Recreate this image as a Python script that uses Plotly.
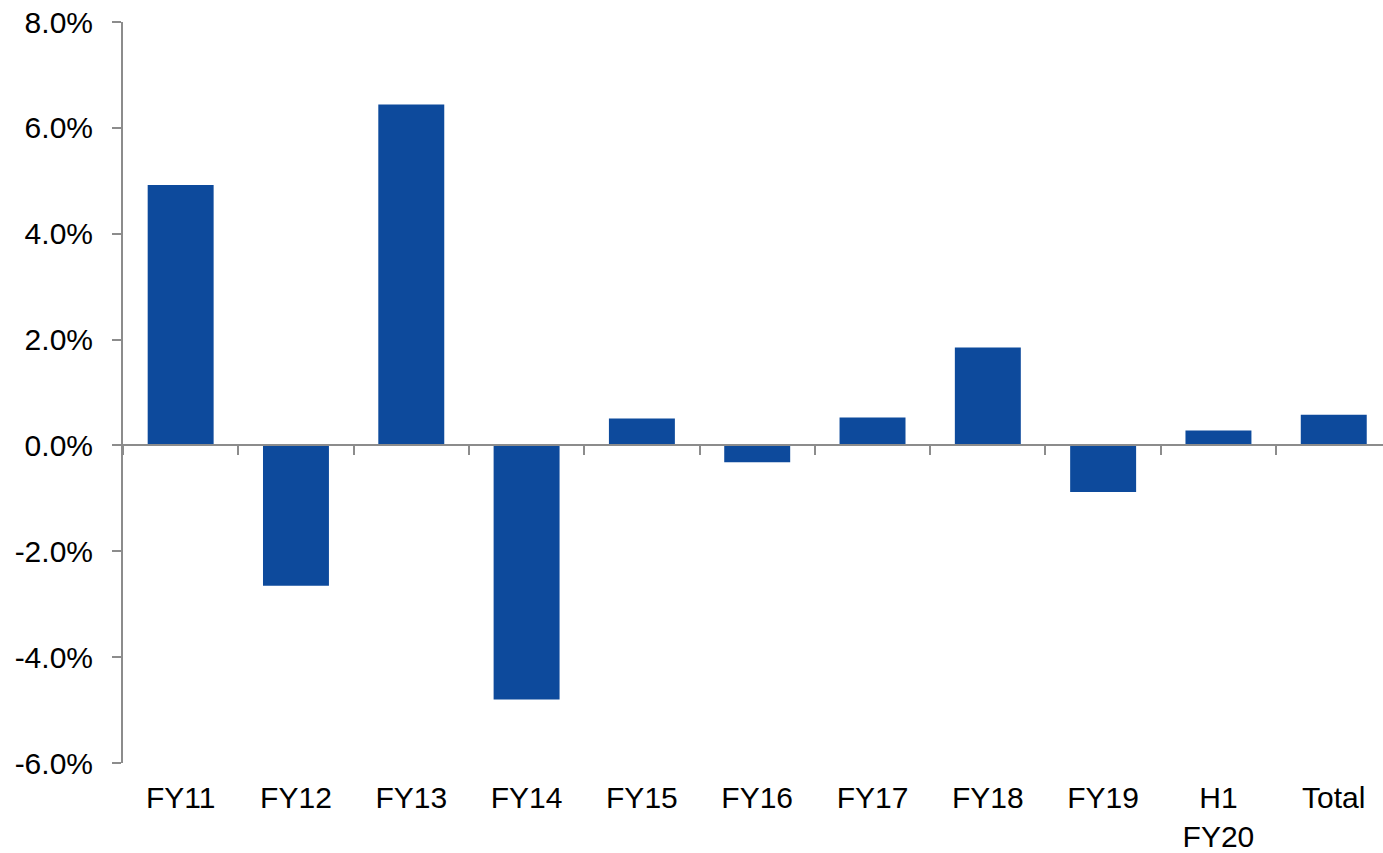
import plotly.graph_objects as go

categories = ["FY11", "FY12", "FY13", "FY14", "FY15", "FY16", "FY17", "FY18", "FY19", "H1<br>FY20", "Total"]
values = [4.92, -2.65, 6.44, -4.80, 0.51, -0.32, 0.53, 1.85, -0.88, 0.28, 0.58]
y_ticks = [-6, -4, -2, 0, 2, 4, 6, 8]
y_tick_labels = ["-6.0%", "-4.0%", "-2.0%", "0.0%", "2.0%", "4.0%", "6.0%", "8.0%"]

BAR = "#0D4A9C"
AXIS = "#8C8C8C"
FONT = "Liberation Sans, Arial, Helvetica, sans-serif"

fig = go.Figure()
fig.add_trace(go.Bar(x=categories, y=values, marker=dict(color=BAR, line=dict(width=0)),
                     showlegend=False, hoverinfo="x+y"))
# dummy trace for the zero-crossing axis
fig.add_trace(go.Scatter(x=categories, y=[0] * len(categories), xaxis="x2", mode="markers",
                         marker=dict(opacity=0), showlegend=False, hoverinfo="skip"))

xrange = [-0.5, 10.427]
fig.update_layout(
    width=1383, height=853,
    margin=dict(l=123, r=0, t=22, b=90, autoexpand=False),
    paper_bgcolor="white", plot_bgcolor="white",
    bargap=0.428,
    font=dict(family=FONT, size=30, color="black"),
    xaxis=dict(type="category", categoryorder="array", categoryarray=categories, range=xrange,
               showline=False, showgrid=False, zeroline=False, automargin=False,
               ticks="outside", ticklen=8, tickcolor="rgba(0,0,0,0)",
               tickfont=dict(size=30, family=FONT, color="black")),
    xaxis2=dict(type="category", categoryorder="array", categoryarray=categories, range=xrange,
                overlaying="x", anchor="free", position=6 / 14,
                showline=True, linecolor=AXIS, linewidth=2,
                ticks="outside", ticklen=9, tickwidth=2, tickcolor=AXIS, tickson="boundaries",
                showticklabels=False, showgrid=False, zeroline=False),
    yaxis=dict(range=[-6, 8], tickvals=y_ticks, ticktext=y_tick_labels,
               showline=True, linecolor=AXIS, linewidth=2,
               ticks="outside", ticklen=9, tickwidth=2, tickcolor=AXIS,
               ticklabelstandoff=13, automargin=False,
               showgrid=False, zeroline=False,
               tickfont=dict(size=30, family=FONT, color="black")),
)

fig.write_html("out.html")
